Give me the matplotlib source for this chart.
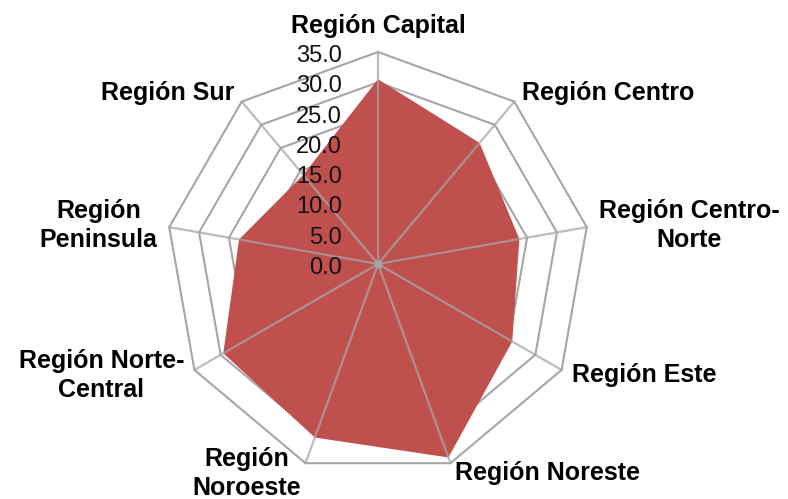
import numpy as np
import matplotlib
matplotlib.use("Agg")
import matplotlib.pyplot as plt

plt.rcParams["font.family"] = ["Liberation Sans", "DejaVu Sans"]

regions = ["Región Capital", "Región Centro", "Región Centro-\nNorte", "Región Este",
           "Región Noreste", "Región\nNoroeste", "Región Norte-\nCentral",
           "Región\nPeninsula", "Región Sur"]
values = [30.5, 26.1, 23.7, 25.6, 34.0, 30.5, 29.5, 23.3, 19.2]
ticks = [0, 5, 10, 15, 20, 25, 30, 35]

FILL = "#C0504D"
GRID = "#A6A6A6"

n = len(regions)
angles = np.arange(n) * 2 * np.pi / n
closed = np.append(angles, angles[0])

fig = plt.figure(figsize=(7.88, 4.99), dpi=100)
ax = fig.add_axes([0.2107, 0.046, 0.538, 0.85], projection="polar")
ax.set_theta_offset(np.pi / 2)
ax.set_theta_direction(-1)
ax.set_ylim(0, ticks[-1])
ax.set_xticks([])
ax.set_yticks([])
ax.grid(False)
ax.spines["polar"].set_visible(False)
ax.set_facecolor("none")

# polygon rings (under the fill)
for t in ticks[1:]:
    ax.plot(closed, [t] * len(closed), color=GRID, lw=1.5, zorder=1, clip_on=False)

# data area
ax.fill(closed, np.append(values, values[0]), color=FILL, zorder=2, lw=0)

# spokes on top of the fill
for a in angles:
    ax.plot([a, a], [0, ticks[-1]], color=GRID, lw=1.6, alpha=0.75, zorder=3, clip_on=False)
ax.plot([0], [0], "o", color=GRID, ms=5, zorder=4)

# value labels along the top spoke
for t in ticks:
    ax.annotate(f"{t:.1f}", xy=(0, t), xytext=(-36, -4), textcoords="offset pixels",
                ha="right", va="center", fontsize=17, color="#111111", zorder=5,
                annotation_clip=False)

# category labels
for a, lab in zip(angles, regions):
    c, s = np.sin(a), np.cos(a)
    if abs(c) < 0.1:
        ha = "center"
        off = (0, 14)
        va = "bottom"
    else:
        ha = "left" if c > 0 else "right"
        off = (12 * c, 11 * s)
        va = "center"
    ax.annotate(lab, xy=(a, ticks[-1]), xytext=off, textcoords="offset pixels",
                ha=ha, va=va, multialignment="center", fontsize=18, fontweight="bold",
                linespacing=1.25, annotation_clip=False)

fig.savefig("out.png", dpi=100, facecolor="white")
